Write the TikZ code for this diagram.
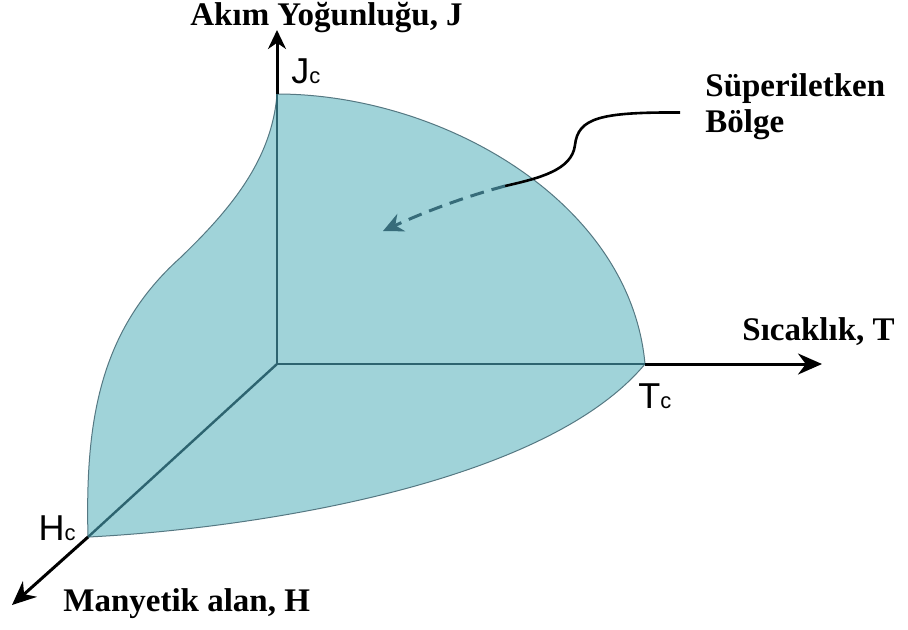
\documentclass[tikz,border=0pt]{standalone}
\usepackage{fontspec}
\setmainfont{Liberation Serif}
\newfontfamily\critfont{Liberation Sans}
\usetikzlibrary{arrows.meta}
\definecolor{sfill}{RGB}{160,211,217}
\definecolor{sedge}{RGB}{85,120,130}
\definecolor{axteal}{RGB}{45,100,112}
\definecolor{dashteal}{RGB}{55,108,122}
\newcommand{\crit}[1]{#1{\fontsize{11}{12}\selectfont c}}

\begin{document}
\begin{tikzpicture}[x=0.5pt, y=-0.5pt, >={Stealth[length=12pt,width=10.5pt]},
  axis/.style={line width=1.5pt, ->},
  inaxis/.style={line width=1.2pt, draw=axteal},
  ttl/.style={font=\fontsize{16.5}{18}\selectfont\bfseries, inner sep=0pt},
  crl/.style={font=\fontsize{18}{20}\selectfont\critfont, inner sep=0pt}]
  \useasboundingbox (0,0) rectangle (908,629);
  % origin, critical points and axis tips
  \coordinate (O) at (277,364);
  \coordinate (Jc) at (277,94);
  \coordinate (Tc) at (645,364);
  \coordinate (Hc) at (88,537);
  \coordinate (Jtip) at (277,30);
  \coordinate (Ttip) at (822,364);
  \coordinate (Htip) at (12,605);
  % superconducting region
  \filldraw[fill=sfill, draw=sedge, line width=0.5pt]
    (Jc) .. controls (440,94) and (630,200) .. (Tc)
         .. controls (540,490) and (230,530) .. (Hc)
         .. controls (85,420) and (100,330) .. (180,258)
         .. controls (230,210) and (272,160) .. (Jc) -- cycle;
  \draw[inaxis] (O) -- (Jc);
  \draw[inaxis] (O) -- (Tc);
  \draw[inaxis] (O) -- (Hc);
  \draw[axis, -{Stealth[length=9.5pt,width=9pt]}] (Jc) -- (Jtip);
  \draw[axis] (Tc) -- (Ttip);
  \draw[axis] (Hc) -- (Htip);
  % labels
  \node[ttl, anchor=base west] (jname) at (190,25) {Akım Yoğunluğu, J};
  \node[ttl, anchor=base west] (tname) at (742,340) {Sıcaklık, T};
  \node[ttl, anchor=base west] (hname) at (63,611) {Manyetik alan, H};
  \node[ttl, anchor=north west, align=left] (sup) at (705,73) {Süperiletken\\Bölge};
  \node[crl, anchor=base west] (jcl) at (291,83) {\crit{J}};
  \node[crl, anchor=base west] (tcl) at (638,408) {\crit{T}};
  \node[crl, anchor=base east] (hcl) at (76,540) {\crit{H}};
  % pointer to the region
  \coordinate (lead) at (505,186);
  \coordinate (spot) at (383,231);
  \draw[line width=1.3pt] (lead) .. controls (540,178) and (572,170) .. (575,145)
    .. controls (578,118) and (600,112) .. ([xshift=-12.5pt,yshift=-3pt]sup.west);
  \draw[dashteal, line width=1.5pt, dash pattern=on 7pt off 4pt,
        -{Stealth[length=10pt,width=9.5pt]}]
    (lead) .. controls (460,198) and (420,214) .. (spot);
\end{tikzpicture}
\end{document}
